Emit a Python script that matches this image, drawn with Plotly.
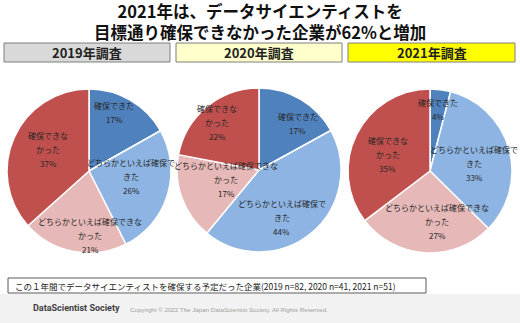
import math
import plotly.graph_objects as go

W, H = 520, 323

# ---------------- data ----------------
years = ["2019年調査", "2020年調査", "2021年調査"]
categories = ["確保できた", "どちらかといえば確保できた", "どちらかといえば確保できなかった", "確保できなかった"]
label_lines = [
    ["確保できた"],
    ["どちらかといえば確保で", "きた"],
    ["どちらかといえば確保できな", "かった"],
    ["確保できな", "かった"],
]
values_2019 = [17, 26, 21, 37]
values_2020 = [17, 44, 17, 22]
values_2021 = [4, 33, 27, 35]
series = [values_2019, values_2020, values_2021]

title_lines = ["2021年は、データサイエンティストを", "目標通り確保できなかった企業が62%と増加"]
note_text = "この１年間でデータサイエンティストを確保する予定だった企業(2019 n=82, 2020 n=41, 2021 n=51)"
logo_text = "DataScientist Society"
copyright_text = "Copyright © 2022 The Japan DataScientist Society. All Rights Reserved."

# ---------------- style ----------------
slice_colors = ["#4f81bd", "#8db4e2", "#e6b9b8", "#c0504d"]
header_fills = ["#d9d9d9", "#ffffcc", "#ffff00"]
pie_centers = [(89, 171), (259, 170), (430, 171)]
pie_r = 82
# (radius fraction, angle nudge deg) for each label, per pie
label_pos = [
    [(0.78, -7), (0.52, -10), (0.79, -12), (0.56, 4)],
    [(0.74, 9), (0.64, 14), (0.42, 3), (0.77, -2)],
    [(0.76, 0), (0.55, 6), (0.62, -12), (0.55, -5)],
]
header_boxes = [(4, 170), (176, 342), (348, 515)]
LINE_H = 14
FONT = "Noto Sans CJK JP"


def px(x):
    return x / W


def py(y):
    return 1 - y / H


fig = go.Figure()
annotations = []
shapes = []

for i, vals in enumerate(series):
    cx, cy = pie_centers[i]
    fig.add_trace(go.Pie(
        labels=categories,
        values=vals,
        sort=False,
        direction="clockwise",
        rotation=0,
        textinfo="none",
        hoverinfo="label+value",
        marker=dict(colors=slice_colors, line=dict(color="white", width=1.5)),
        domain=dict(x=[px(cx - pie_r), px(cx + pie_r)],
                    y=[py(cy + pie_r), py(cy - pie_r)]),
        showlegend=False,
    ))
    total = sum(vals)
    cum = 0
    for j, v in enumerate(vals):
        mid = (cum + v / 2) / total * 360
        cum += v
        f, nudge = label_pos[i][j]
        th = math.radians(mid + nudge)
        lx = cx + f * pie_r * math.sin(th)
        ly = cy - f * pie_r * math.cos(th)
        lines = label_lines[j] + [f"{v}%"]
        n = len(lines)
        for k, t in enumerate(lines):
            yy = ly + (k - (n - 1) / 2) * LINE_H
            annotations.append(dict(
                x=px(lx), y=py(yy), xref="paper", yref="paper",
                text=t, showarrow=False, xanchor="center", yanchor="middle",
                font=dict(family=FONT, size=8, color="#262626"),
            ))

# title (single two-line annotation)
annotations.append(dict(
    x=0.5, y=py(21.5), xref="paper", yref="paper",
    text="<b>" + "<br>".join(title_lines) + "</b>",
    showarrow=False, xanchor="center", yanchor="middle",
    font=dict(family=FONT, size=16.5, color="#111111"),
))

# header boxes
for (x0, x1), fill, label in zip(header_boxes, header_fills, years):
    shapes.append(dict(type="rect", xref="paper", yref="paper",
                       x0=px(x0), x1=px(x1), y0=py(62), y1=py(43),
                       fillcolor=fill, line=dict(color="#7f7f7f", width=1), layer="below"))
    annotations.append(dict(
        x=px((x0 + x1) / 2), y=py(52.5), xref="paper", yref="paper", text=f"<b>{label}</b>",
        showarrow=False, xanchor="center", yanchor="middle",
        font=dict(family=FONT, size=13, color="#222222"),
    ))

# footer band
shapes.append(dict(type="rect", xref="paper", yref="paper",
                   x0=0, x1=1, y0=0, y1=py(294),
                   fillcolor="#f2f2f2", line=dict(width=0), layer="below"))
# note box
shapes.append(dict(type="rect", xref="paper", yref="paper",
                   x0=px(8), x1=px(426), y0=py(293), y1=py(278),
                   fillcolor="white", line=dict(color="#595959", width=1), layer="below"))
annotations.append(dict(
    x=px(13), y=py(285.5), xref="paper", yref="paper", text=note_text,
    showarrow=False, xanchor="left", yanchor="middle",
    font=dict(family=FONT, size=8.5, color="#1a1a1a"),
))
annotations.append(dict(
    x=px(31), y=py(308), xref="paper", yref="paper", text=f"<b>{logo_text}</b>",
    showarrow=False, xanchor="left", yanchor="middle",
    font=dict(family="Roboto", size=9, color="#404040"),
))
annotations.append(dict(
    x=px(128), y=py(309), xref="paper", yref="paper", text=copyright_text,
    showarrow=False, xanchor="left", yanchor="middle",
    font=dict(family="Liberation Sans, sans-serif", size=6.2, color="#a0a0a0"),
))

fig.update_layout(
    width=W, height=H,
    margin=dict(l=0, r=0, t=0, b=0),
    paper_bgcolor="white",
    plot_bgcolor="white",
    annotations=annotations,
    shapes=shapes,
)

fig.write_html("out.html")
